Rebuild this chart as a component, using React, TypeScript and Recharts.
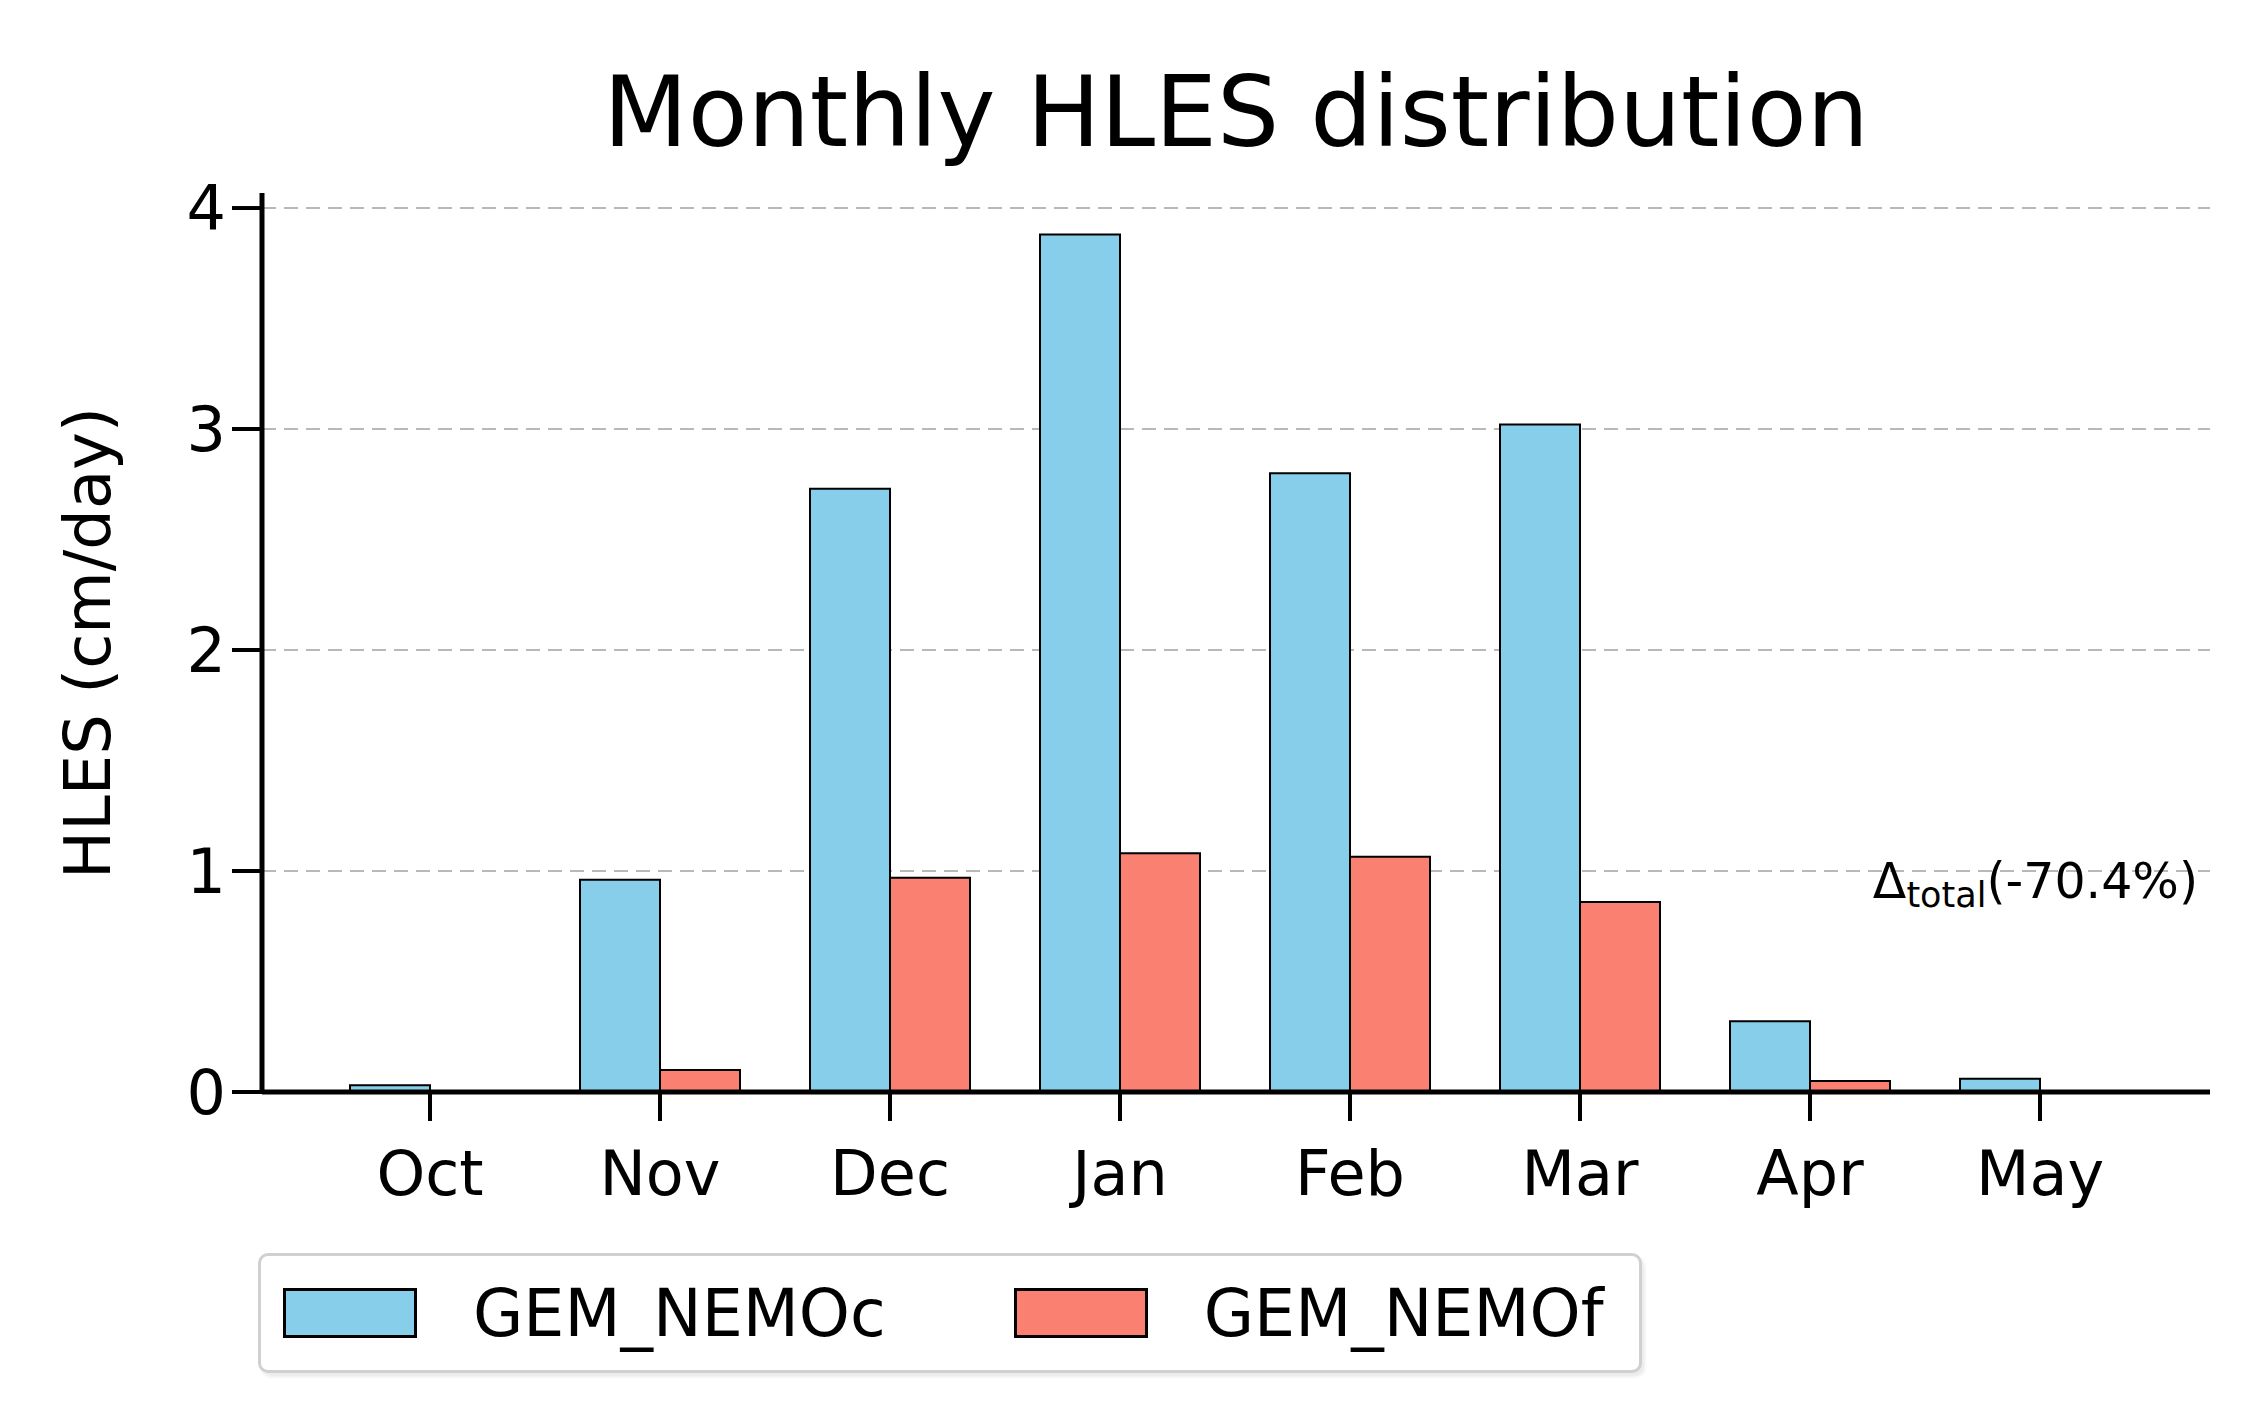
import { BarChart, Bar, XAxis, YAxis, CartesianGrid } from 'recharts';

const MONTHS = ['Oct', 'Nov', 'Dec', 'Jan', 'Feb', 'Mar', 'Apr', 'May'];
const NEMO_C = [0.03, 0.96, 2.73, 3.88, 2.8, 3.02, 0.32, 0.06];
const NEMO_F = [0, 0.1, 0.97, 1.08, 1.065, 0.86, 0.05, 0];
const Y_TICKS = [0, 1, 2, 3, 4];
const GRID_VALUES = [1, 2, 3, 4];

const SERIES = [
  { key: 'c', name: 'GEM_NEMOc', color: '#87CEEB' },
  { key: 'f', name: 'GEM_NEMOf', color: '#FA8072' },
];

const data = MONTHS.map((month, i) => ({ month, c: NEMO_C[i], f: NEMO_F[i] }));

const FONT = '"DejaVu Sans", sans-serif';

const Legend = () => (
  <div
    style={{
      position: 'absolute',
      left: 258,
      top: 1253,
      width: 1384,
      height: 120,
      boxSizing: 'border-box',
      border: '3px solid #d0d0d0',
      borderRadius: 10,
      boxShadow: '3px 4px 3px rgba(0,0,0,0.08)',
      background: '#fff',
      display: 'flex',
      alignItems: 'center',
      paddingLeft: 22,
      fontFamily: FONT,
      fontSize: 65,
      color: '#000',
    }}
  >
    {SERIES.map((s, i) => (
      <div key={s.key} style={{ display: 'flex', alignItems: 'center', marginLeft: i === 0 ? 0 : 128 }}>
        <div
          style={{
            width: 134,
            height: 50,
            boxSizing: 'border-box',
            background: s.color,
            border: '3px solid #000',
            marginRight: 56,
          }}
        />
        <span style={{ lineHeight: 1 }}>{s.name}</span>
      </div>
    ))}
  </div>
);

const App = () => {
  return (
    <div style={{ position: 'absolute', left: 0, top: 0, width: 2246, height: 1428, background: '#fff', fontFamily: FONT }}>
      <BarChart
        width={2246}
        height={1428}
        data={data}
        margin={{ top: 193, right: 36, bottom: 236, left: 0 }}
        barGap={0}
      >
        <CartesianGrid
          vertical={false}
          horizontalValues={GRID_VALUES}
          stroke="#b8b8b8"
          strokeWidth={2}
          strokeDasharray="14 8"
        />
        <XAxis
          dataKey="month"
          interval={0}
          height={100}
          padding={{ left: 53, right: 55 }}
          axisLine={{ stroke: '#000', strokeWidth: 5 }}
          tickLine={{ stroke: '#000', strokeWidth: 4 }}
          tickSize={29}
          tickMargin={30}
          tick={{ fill: '#000', fontSize: 62, fontFamily: FONT }}
        />
        <YAxis
          type="number"
          width={262}
          domain={[0, 4.068]}
          ticks={Y_TICKS}
          allowDataOverflow
          axisLine={{ stroke: '#000', strokeWidth: 5 }}
          tickLine={{ stroke: '#000', strokeWidth: 4 }}
          tickSize={30}
          tickMargin={6}
          tick={{ fill: '#000', fontSize: 62, fontFamily: FONT }}
        />
        {SERIES.map((s) => (
          <Bar
            key={s.key}
            dataKey={s.key}
            name={s.name}
            fill={s.color}
            stroke="#000"
            strokeWidth={2}
            barSize={80}
            isAnimationActive={false}
          />
        ))}
      </BarChart>

      <svg
        width={2246}
        height={1428}
        style={{ position: 'absolute', left: 0, top: 0, pointerEvents: 'none' }}
        fontFamily={FONT}
      >
        <text x={1236} y={146} textAnchor="middle" fontSize={98} fill="#000">
          Monthly HLES distribution
        </text>
        <text x={110} y={643} transform="rotate(-90 110 643)" textAnchor="middle" fontSize={64} fill="#000">
          HLES (cm/day)
        </text>
        <text x={2198} y={898} textAnchor="end" fontSize={49} fill="#000">
          Δ
          <tspan fontSize={35} dy={9}>total</tspan>
          <tspan dy={-9}>(-70.4%)</tspan>
        </text>
      </svg>

      <Legend />
    </div>
  );
};

export default App;
